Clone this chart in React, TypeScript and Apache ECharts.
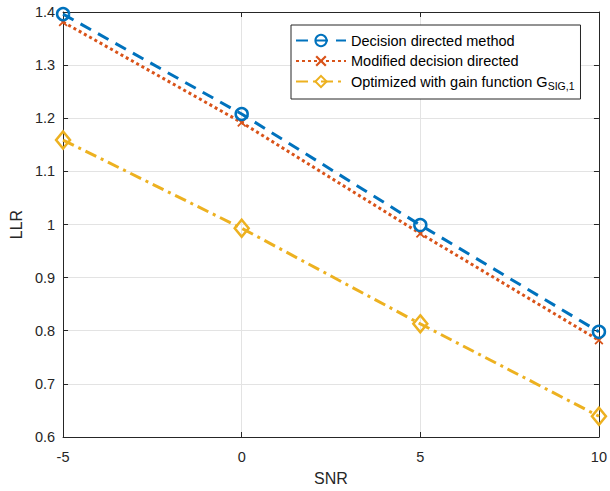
import React, { useEffect, useRef } from "react";
import * as echarts from "echarts";

const snr = [-5, 0, 5, 10];
const decisionDirected = [1.396, 1.208, 0.999, 0.798];
const modifiedDecision = [1.381, 1.192, 0.983, 0.782];
const optimizedGain = [1.159, 0.993, 0.813, 0.639];

const seriesNames = [
  "Decision directed method",
  "Modified decision directed",
  "Optimized with gain function G_SIG,1",
];

const BLUE = "#0072BD";
const ORANGE = "#D95319";
const YELLOW = "#EDB120";
const AX = "#262626";
const FONT = "Liberation Sans, Arial, Helvetica, sans-serif";

const X_PATH =
  "path://M0,1.4 L1.4,0 L5,3.6 L8.6,0 L10,1.4 L6.4,5 L10,8.6 L8.6,10 L5,6.4 L1.4,10 L0,8.6 L3.6,5 Z";

export default function App() {
  const ref = useRef<HTMLDivElement>(null);
  useEffect(() => {
    if (!ref.current) return;
    const chart = echarts.init(ref.current, undefined, { renderer: "svg" });
    const pairs = (ys: number[]) => snr.map((x, i) => [x, ys[i]]);
    const axisCommon = {
      axisLine: { show: true, onZero: false, lineStyle: { color: AX, width: 1 } },
      axisTick: { show: true, inside: true, length: 5, lineStyle: { color: AX } },
    };
    chart.setOption({
      animation: false,
      backgroundColor: "#fff",
      textStyle: { fontFamily: FONT },
      grid: { left: 62, right: 8, top: 12, bottom: 52, containLabel: false },
      legend: {
        orient: "vertical",
        left: 291,
        top: 25,
        padding: [8, 6, 8, 4],
        itemGap: 5.5,
        itemWidth: 50,
        itemHeight: 14,
        backgroundColor: "#fff",
        borderColor: AX,
        borderWidth: 1,
        borderRadius: 0,
        data: seriesNames,
        formatter: (name: string) =>
          name === seriesNames[2] ? "Optimized with gain function G{sub|SIG,1}" : name,
        textStyle: {
          fontFamily: FONT,
          fontSize: 14.5,
          color: "#000",
          rich: {
            sub: { fontFamily: FONT, fontSize: 10.5, color: "#000", padding: [8, 0, 0, 0] },
          },
        },
      },
      xAxis: [
        {
          type: "value",
          min: -5,
          max: 10,
          interval: 5,
          name: "SNR",
          nameLocation: "middle",
          nameGap: 33,
          nameTextStyle: { fontFamily: FONT, fontSize: 16, color: AX },
          ...axisCommon,
          axisLabel: { fontFamily: FONT, fontSize: 14.5, color: AX, margin: 12 },
          splitLine: { show: true, lineStyle: { color: "#e3e3e3", width: 1 } },
        },
        {
          type: "value",
          position: "top",
          min: -5,
          max: 10,
          interval: 5,
          ...axisCommon,
          axisLabel: { show: false },
          splitLine: { show: false },
        },
      ],
      yAxis: [
        {
          type: "value",
          min: 0.6,
          max: 1.4,
          interval: 0.1,
          name: "LLR",
          nameLocation: "middle",
          nameGap: 38,
          nameTextStyle: { fontFamily: FONT, fontSize: 16, color: AX },
          ...axisCommon,
          axisLabel: { fontFamily: FONT, fontSize: 14.5, color: AX, margin: 8 },
          splitLine: { show: true, lineStyle: { color: "#e3e3e3", width: 1 } },
        },
        {
          type: "value",
          position: "right",
          min: 0.6,
          max: 1.4,
          interval: 0.1,
          ...axisCommon,
          axisLabel: { show: false },
          splitLine: { show: false },
        },
      ],
      series: [
        {
          name: seriesNames[0],
          type: "line",
          data: pairs(decisionDirected),
          clip: false,
          symbol: "circle",
          symbolSize: 12,
          itemStyle: { color: "rgba(255,255,255,0)", borderColor: BLUE, borderWidth: 2.5 },
          lineStyle: { color: BLUE, width: 3, type: [12, 8] },
          z: 3,
        },
        {
          name: seriesNames[1],
          type: "line",
          data: pairs(modifiedDecision),
          clip: false,
          symbol: X_PATH,
          symbolSize: 9,
          itemStyle: { color: ORANGE },
          lineStyle: { color: ORANGE, width: 3, type: [3, 3] },
          z: 2,
        },
        {
          name: seriesNames[2],
          type: "line",
          data: pairs(optimizedGain),
          clip: false,
          symbol: "diamond",
          symbolSize: [14, 17],
          itemStyle: { color: "rgba(255,255,255,0)", borderColor: YELLOW, borderWidth: 2.5 },
          lineStyle: { color: YELLOW, width: 3, type: [12, 5, 3, 5] },
          z: 2,
        },
      ],
    });
    return () => chart.dispose();
  }, []);
  return (
    <div
      ref={ref}
      style={{ position: "fixed", left: 0, top: 0, width: 610, height: 491 }}
    />
  );
}
